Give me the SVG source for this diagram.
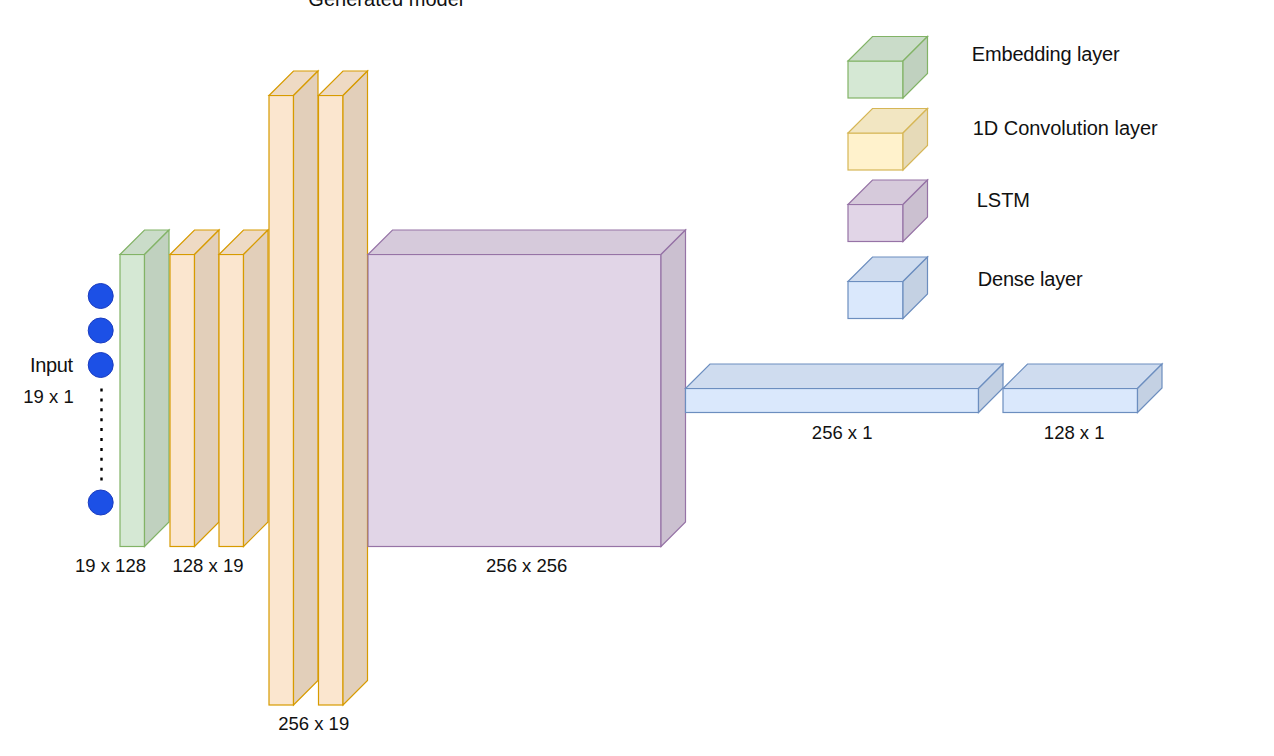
<svg xmlns="http://www.w3.org/2000/svg" width="1274" height="756" viewBox="0 0 1274 756">
<style>
text{font-family:"Liberation Sans",Arial,Helvetica,sans-serif;fill:#111;}
.w{font-size:20px;}
.d{font-size:18.5px;text-anchor:middle;}
.cube *{stroke-width:1.2;stroke-linejoin:miter;}
.g .f{fill:#d5e8d4;stroke:#82b366}.g .t{fill:#cadcc9;stroke:#82b366}.g .s{fill:#c0d1bf;stroke:#82b366}
.o .f{fill:#fbe6cf;stroke:#d79b00}.o .t{fill:#eedac4;stroke:#d79b00}.o .s{fill:#e2cfba;stroke:#d79b00}
.y .f{fill:#fff2cc;stroke:#d6b656}.y .t{fill:#f2e6c2;stroke:#d6b656}.y .s{fill:#e6dab8;stroke:#d6b656}
.p .f{fill:#e1d5e7;stroke:#9673a6}.p .t{fill:#d6cadb;stroke:#9673a6}.p .s{fill:#cbc0d0;stroke:#9673a6}
.b .f{fill:#dae8fc;stroke:#6c8ebf}.b .t{fill:#cfdcef;stroke:#6c8ebf}.b .s{fill:#c4d1e3;stroke:#6c8ebf}
.dot{fill:#1c50e6;stroke:#1a3cc0;stroke-width:1}
</style>
<rect width="1274" height="756" fill="#ffffff"/>

<text class="w" x="385.8" y="5.5" text-anchor="middle" textLength="155">Generated model</text>

<g id="input">
  <circle class="dot" cx="100.7" cy="296" r="12.5"/>
  <circle class="dot" cx="100.7" cy="330.5" r="12.5"/>
  <circle class="dot" cx="100.7" cy="365" r="12.5"/>
  <line x1="101.5" y1="388.5" x2="101.5" y2="482" stroke="#000" stroke-width="2.4" stroke-dasharray="3 6.9"/>
  <circle class="dot" cx="100.7" cy="502.5" r="12.5"/>
  <text class="w" x="30" y="371.5" textLength="43">Input</text>
  <text class="d" x="48.5" y="403" style="text-anchor:middle">19 x 1</text>
</g>

<g id="embedding" class="cube g">
  <rect class="f" x="120" y="254.5" width="24.5" height="292"/>
  <polygon class="t" points="120,254.5 144.5,230 169,230 144.5,254.5"/>
  <polygon class="s" points="144.5,254.5 169,230 169,522 144.5,546.5"/>
  <text class="d" x="110.5" y="572">19 x 128</text>
</g>

<g id="conv1" class="cube o">
  <rect class="f" x="170" y="254.5" width="24.5" height="292"/>
  <polygon class="t" points="170,254.5 194.5,230 219,230 194.5,254.5"/>
  <polygon class="s" points="194.5,254.5 219,230 219,522 194.5,546.5"/>
</g>

<g id="conv2" class="cube o">
  <rect class="f" x="219" y="254.5" width="24.5" height="292"/>
  <polygon class="t" points="219,254.5 243.5,230 268,230 243.5,254.5"/>
  <polygon class="s" points="243.5,254.5 268,230 268,522 243.5,546.5"/>
  <text class="d" x="208" y="572">128 x 19</text>
</g>

<g id="conv3" class="cube o">
  <rect class="f" x="269" y="95.5" width="24.5" height="609.5"/>
  <polygon class="t" points="269,95.5 293.5,71 318,71 293.5,95.5"/>
  <polygon class="s" points="293.5,95.5 318,71 318,680.5 293.5,705"/>
</g>

<g id="conv4" class="cube o">
  <rect class="f" x="318.5" y="95.5" width="24.5" height="609.5"/>
  <polygon class="t" points="318.5,95.5 343,71 367.5,71 343,95.5"/>
  <polygon class="s" points="343,95.5 367.5,71 367.5,680.5 343,705"/>
  <text class="d" x="313.7" y="730">256 x 19</text>
</g>

<g id="lstm" class="cube p">
  <rect class="f" x="368" y="254.5" width="293" height="292"/>
  <polygon class="t" points="368,254.5 392.5,230 685.5,230 661,254.5"/>
  <polygon class="s" points="661,254.5 685.5,230 685.5,522 661,546.5"/>
  <text class="d" x="526.7" y="572">256 x 256</text>
</g>

<g id="dense1" class="cube b">
  <rect class="f" x="685.5" y="388.5" width="293" height="24"/>
  <polygon class="t" points="685.5,388.5 710,364 1003,364 978.5,388.5"/>
  <polygon class="s" points="978.5,388.5 1003,364 1003,388 978.5,412.5"/>
  <text class="d" x="842.2" y="438.5">256 x 1</text>
</g>

<g id="dense2" class="cube b">
  <rect class="f" x="1003" y="388.5" width="134.5" height="24"/>
  <polygon class="t" points="1003,388.5 1027.5,364 1162,364 1137.5,388.5"/>
  <polygon class="s" points="1137.5,388.5 1162,364 1162,388 1137.5,412.5"/>
  <text class="d" x="1074.2" y="438.5">128 x 1</text>
</g>

<g id="legend-embedding" class="cube g">
  <rect class="f" x="848" y="61" width="55" height="37"/>
  <polygon class="t" points="848,61 872.5,36.5 927.5,36.5 903,61"/>
  <polygon class="s" points="903,61 927.5,36.5 927.5,73.5 903,98"/>
  <text class="w" x="971.7" y="60.5" textLength="148">Embedding layer</text>
</g>

<g id="legend-conv" class="cube y">
  <rect class="f" x="848" y="133" width="55" height="37"/>
  <polygon class="t" points="848,133 872.5,108.5 927.5,108.5 903,133"/>
  <polygon class="s" points="903,133 927.5,108.5 927.5,145.5 903,170"/>
  <text class="w" x="972.7" y="135" textLength="185">1D Convolution layer</text>
</g>

<g id="legend-lstm" class="cube p">
  <rect class="f" x="848" y="204.5" width="55" height="37"/>
  <polygon class="t" points="848,204.5 872.5,180 927.5,180 903,204.5"/>
  <polygon class="s" points="903,204.5 927.5,180 927.5,217 903,241.5"/>
  <text class="w" x="976.7" y="206.5" textLength="53.3">LSTM</text>
</g>

<g id="legend-dense" class="cube b">
  <rect class="f" x="848" y="281.5" width="55" height="37"/>
  <polygon class="t" points="848,281.5 872.5,257 927.5,257 903,281.5"/>
  <polygon class="s" points="903,281.5 927.5,257 927.5,294 903,318.5"/>
  <text class="w" x="977.7" y="285.5" textLength="105">Dense layer</text>
</g>

<g id="connectors"></g>
</svg>
